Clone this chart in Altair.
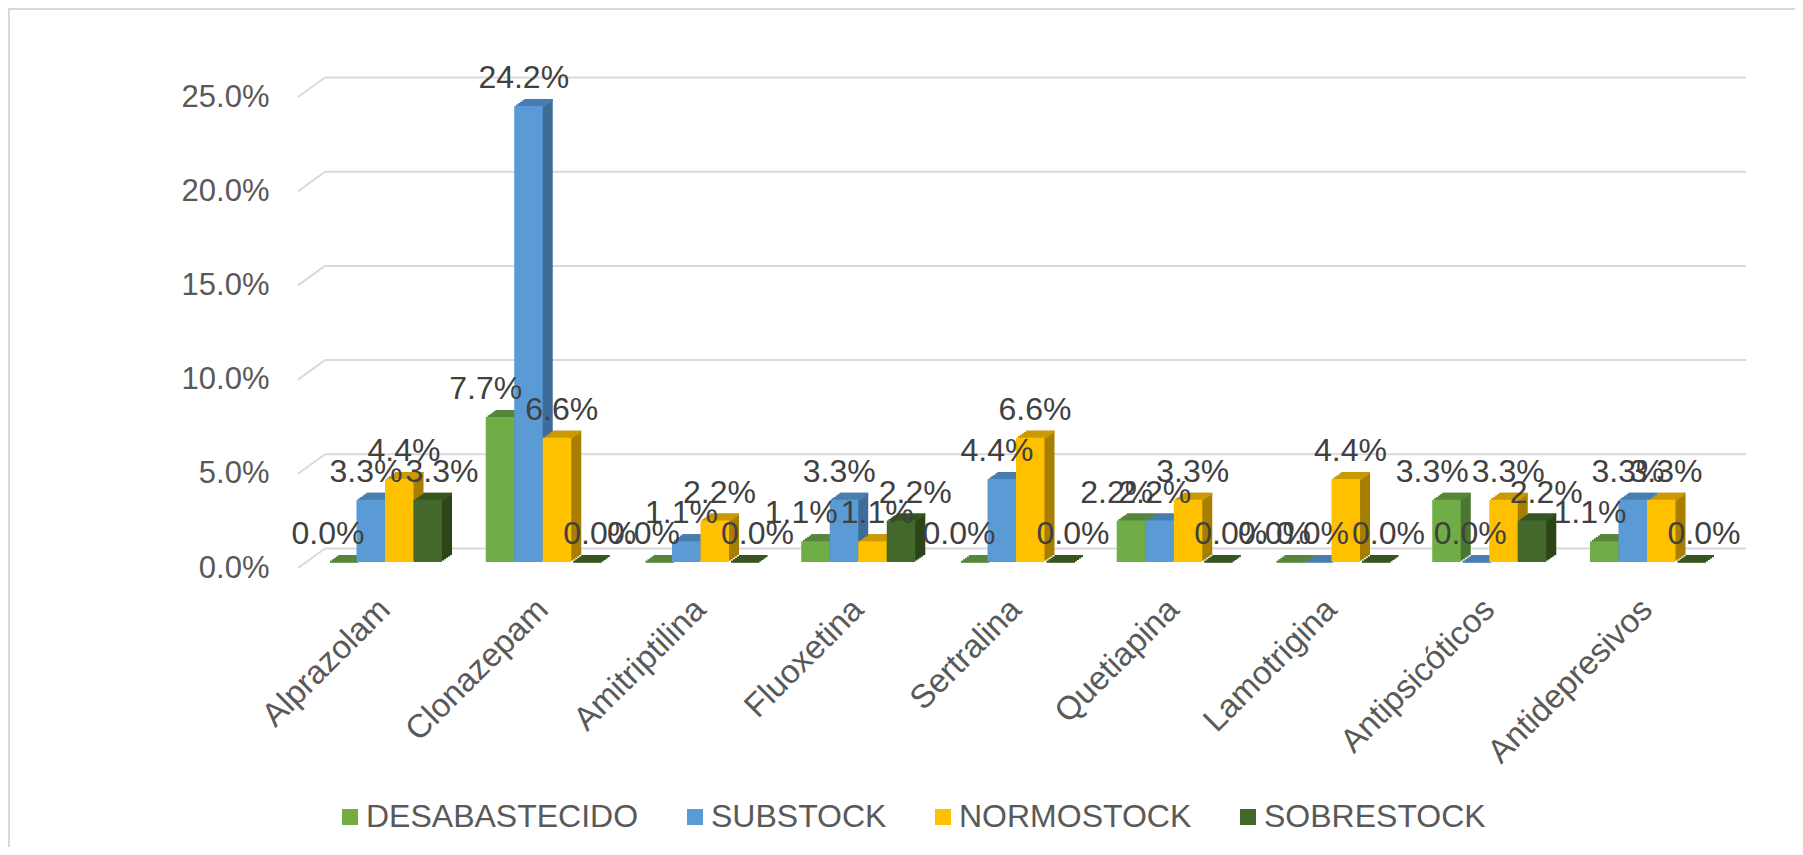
import altair as alt
import pandas as pd

# ---------------- data ----------------
categories = ["Alprazolam", "Clonazepam", "Amitriptilina", "Fluoxetina", "Sertralina",
              "Quetiapina", "Lamotrigina", "Antipsicóticos", "Antidepresivos"]
series = ["DESABASTECIDO", "SUBSTOCK", "NORMOSTOCK", "SOBRESTOCK"]
desabastecido = [0.0, 7.7, 0.0, 1.1, 0.0, 2.2, 0.0, 3.3, 1.1]
substock = [3.3, 24.2, 1.1, 3.3, 4.4, 2.2, 0.0, 0.0, 3.3]
normostock = [4.4, 6.6, 2.2, 1.1, 6.6, 3.3, 4.4, 3.3, 3.3]
sobrestock = [3.3, 0.0, 0.0, 2.2, 0.0, 0.0, 0.0, 2.2, 0.0]
y_ticks = [0, 5, 10, 15, 20, 25]

# ---------------- styles ----------------
front_colors = ["#70AD47", "#5B9BD5", "#FFC000", "#43682B"]
top_colors = ["#56863A", "#477EB2", "#CC9A00", "#36551F"]
side_colors = ["#4B7531", "#3E6C99", "#A87E00", "#2B4518"]
FONT = "Liberation Sans"

rows = []
for s, vals in zip(series, [desabastecido, substock, normostock, sobrestock]):
    for c, v in zip(categories, vals):
        rows.append({"cat": c, "series": s, "value": v / 100})
df = pd.DataFrame(rows)
grid_df = pd.DataFrame({"v": [t / 100 for t in y_ticks]})
frame_df = pd.DataFrame({"a": [0]})

W, H = 1436, 471
PI, PO = 0.277, 0.19
step = W / (len(categories) - PI + 2 * PO)
BW = step * (1 - PI)
BASE = -6          # bars sit slightly behind the front plane
DX, DY = 10, -7    # bar depth
NSTEP = 5
GX, GY = 27, -19.5 # back wall depth

yscale = alt.Scale(domain=[0, 0.25], nice=False, zero=True)
yaxis = alt.Axis(values=[t / 100 for t in y_ticks], format=".1%", labelFontSize=31,
                 labelColor="#595959", labelFont=FONT, labelPadding=29, domain=False,
                 ticks=False, tickSize=0, grid=False, title=None, labelLimit=400)
xaxis = alt.Axis(labelAngle=-45, labelAlign="right", labelBaseline="middle",
                 labelFontSize=33, labelColor="#595959", labelFont=FONT, labelPadding=36,
                 domain=False, ticks=False, tickSize=0, grid=False, title=None,
                 labelLimit=600, labelOverlap=False)


def xenc():
    return alt.X("cat:N", sort=categories,
                 scale=alt.Scale(paddingInner=PI, paddingOuter=PO), axis=xaxis)


def xoff(dx):
    return alt.XOffset("series:N", sort=series,
                       scale=alt.Scale(domain=series, range=[dx, BW + dx],
                                       paddingInner=0, paddingOuter=0))


def color(cols, legend=None):
    if legend is None:
        return alt.Color("series:N", sort=series,
                         scale=alt.Scale(domain=series, range=cols), legend=None)
    return alt.Color("series:N", sort=series,
                     scale=alt.Scale(domain=series, range=cols), legend=legend)


base = alt.Chart(df)

frame = alt.Chart(frame_df).mark_rect(fillOpacity=0, stroke="#D9D9D9", strokeWidth=2).encode(
    x=alt.value(-289), x2=alt.value(1700), y=alt.value(-88), y2=alt.value(1000))

grid_h = alt.Chart(grid_df).mark_rule(color="#D9D9D9", strokeWidth=2, yOffset=GY).encode(
    y=alt.Y("v:Q", scale=yscale, axis=yaxis), x=alt.value(GX), x2=alt.value(1448))
grid_d = alt.Chart(grid_df).mark_rule(color="#D9D9D9", strokeWidth=2, y2Offset=GY).encode(
    y=alt.Y("v:Q", scale=yscale, axis=yaxis), y2=alt.Y2("v"), x=alt.value(0), x2=alt.value(GX))

layers = [frame, grid_h, grid_d]

for k in range(1, NSTEP + 1):
    dx = DX * k / NSTEP
    dy = BASE + DY * k / NSTEP
    layers.append(base.mark_bar(yOffset=dy, y2Offset=dy).encode(
        x=xenc(), xOffset=xoff(dx),
        y=alt.Y("value:Q", scale=yscale, axis=yaxis, stack=None), y2=alt.datum(0),
        color=color(side_colors)))

for k in range(1, NSTEP + 1):
    dx = DX * k / NSTEP
    dy = BASE + DY * k / NSTEP
    layers.append(base.mark_bar(yOffset=dy, y2Offset=dy - DY / NSTEP + 0.8).encode(
        x=xenc(), xOffset=xoff(dx),
        y=alt.Y("value:Q", scale=yscale, axis=yaxis, stack=None), y2=alt.Y2("value"),
        color=color(top_colors)))

legend = alt.Legend(orient="none", legendX=36, legendY=704, direction="horizontal",
                    title=None, symbolType="square", symbolSize=256, labelFontSize=32,
                    labelColor="#595959", labelFont=FONT, columnPadding=40, labelOffset=0,
                    labelLimit=600, symbolStrokeWidth=0)

layers.append(base.mark_bar(yOffset=BASE, y2Offset=BASE).encode(
    x=xenc(), xOffset=xoff(0),
    y=alt.Y("value:Q", scale=yscale, axis=yaxis, stack=None), y2=alt.datum(0),
    color=color(front_colors, legend)))

layers.append(base.mark_text(dy=BASE - 28, fontSize=32, color="#404040", font=FONT,
                             baseline="middle", align="center").encode(
    x=xenc(), xOffset=xoff(0),
    y=alt.Y("value:Q", scale=yscale, axis=yaxis, stack=None),
    text=alt.Text("value:Q", format=".1%")))

chart = alt.layer(*layers).resolve_scale(
    color="independent", xOffset="independent"
).properties(
    width=W, height=H,
    autosize=alt.AutoSizeParams(type="none"),
    padding={"left": 290, "top": 89, "right": 1787 - 290 - W, "bottom": 839 - 89 - H},
    background="white",
).configure_view(stroke=None)

chart.save("out.html", embed_options={"renderer": "svg", "actions": False})
